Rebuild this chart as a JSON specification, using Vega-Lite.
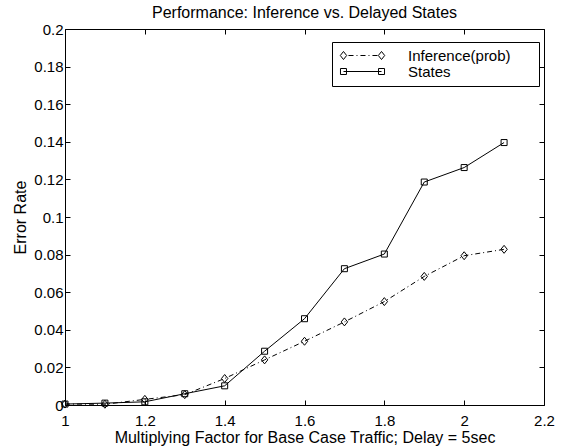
{
  "$schema": "https://vega.github.io/schema/vega-lite/v6.json",
  "width": 479,
  "height": 376,
  "autosize": {"type": "none"},
  "padding": {"left": 65, "top": 29, "right": 20, "bottom": 41},
  "background": "white",
  "title": {
    "text": "Performance: Inference vs. Delayed States",
    "font": "Liberation Sans",
    "fontSize": 16,
    "fontWeight": "normal",
    "color": "black",
    "anchor": "middle",
    "offset": 1
  },
  "data": {
    "values": [
      {"factor": 1.0, "rate": 0.0005, "series": "Inference(prob)"},
      {"factor": 1.1, "rate": 0.0004, "series": "Inference(prob)"},
      {"factor": 1.2, "rate": 0.003, "series": "Inference(prob)"},
      {"factor": 1.3, "rate": 0.0055, "series": "Inference(prob)"},
      {"factor": 1.4, "rate": 0.0141, "series": "Inference(prob)"},
      {"factor": 1.5, "rate": 0.024, "series": "Inference(prob)"},
      {"factor": 1.6, "rate": 0.0339, "series": "Inference(prob)"},
      {"factor": 1.7, "rate": 0.0442, "series": "Inference(prob)"},
      {"factor": 1.8, "rate": 0.055, "series": "Inference(prob)"},
      {"factor": 1.9, "rate": 0.0684, "series": "Inference(prob)"},
      {"factor": 2.0, "rate": 0.0794, "series": "Inference(prob)"},
      {"factor": 2.1, "rate": 0.0828, "series": "Inference(prob)"},
      {"factor": 1.0, "rate": 0.0005, "series": "States"},
      {"factor": 1.1, "rate": 0.001, "series": "States"},
      {"factor": 1.2, "rate": 0.0017, "series": "States"},
      {"factor": 1.3, "rate": 0.006, "series": "States"},
      {"factor": 1.4, "rate": 0.0102, "series": "States"},
      {"factor": 1.5, "rate": 0.0286, "series": "States"},
      {"factor": 1.6, "rate": 0.0459, "series": "States"},
      {"factor": 1.7, "rate": 0.0725, "series": "States"},
      {"factor": 1.8, "rate": 0.0803, "series": "States"},
      {"factor": 1.9, "rate": 0.1186, "series": "States"},
      {"factor": 2.0, "rate": 0.1263, "series": "States"},
      {"factor": 2.1, "rate": 0.1396, "series": "States"}
    ]
  },
  "layer": [
    {
      "transform": [{"filter": "datum.series === 'Inference(prob)'"}],
      "mark": {"type": "line", "color": "black", "strokeWidth": 1, "strokeDash": [5, 3, 1, 3]},
      "encoding": {
        "x": {
          "field": "factor",
          "type": "quantitative",
          "scale": {"domain": [1, 2.2], "nice": false, "zero": false},
          "axis": {
            "orient": "bottom",
            "values": [1, 1.2, 1.4, 1.6, 1.8, 2, 2.2],
            "format": "~g",
            "labelPadding": 13,
            "title": "Multiplying Factor for Base Case Traffic; Delay = 5sec",
            "titleFontSize": 16,
            "titlePadding": 1
          }
        },
        "y": {
          "field": "rate",
          "type": "quantitative",
          "scale": {"domain": [0, 0.2], "nice": false},
          "axis": {
            "orient": "left",
            "values": [0, 0.02, 0.04, 0.06, 0.08, 0.1, 0.12, 0.14, 0.16, 0.18, 0.2],
            "format": "~g",
            "labelPadding": 7,
            "title": "Error Rate",
            "titleFontSize": 16,
            "titlePadding": 5
          }
        }
      }
    },
    {
      "transform": [{"filter": "datum.series === 'States'"}],
      "mark": {"type": "line", "color": "black", "strokeWidth": 1},
      "encoding": {
        "x": {"field": "factor", "type": "quantitative", "axis": null},
        "y": {"field": "rate", "type": "quantitative", "axis": null}
      }
    },
    {
      "transform": [{"filter": "datum.series === 'Inference(prob)'"}],
      "mark": {"type": "point", "filled": false, "color": "black", "strokeWidth": 1, "size": 36, "opacity": 1, "shape": "M0,-1.33L1.07,0L0,1.33L-1.07,0Z"},
      "encoding": {
        "x": {
          "field": "factor",
          "type": "quantitative",
          "axis": {
            "orient": "top",
            "values": [1, 1.2, 1.4, 1.6, 1.8, 2, 2.2],
            "labels": false,
            "title": null
          }
        },
        "y": {
          "field": "rate",
          "type": "quantitative",
          "axis": {
            "orient": "right",
            "values": [0, 0.02, 0.04, 0.06, 0.08, 0.1, 0.12, 0.14, 0.16, 0.18, 0.2],
            "labels": false,
            "title": null
          }
        }
      }
    },
    {
      "transform": [{"filter": "datum.series === 'States'"}],
      "mark": {"type": "point", "filled": false, "color": "black", "strokeWidth": 1, "size": 36, "opacity": 1, "shape": "square"},
      "encoding": {
        "x": {"field": "factor", "type": "quantitative", "axis": null},
        "y": {"field": "rate", "type": "quantitative", "axis": null}
      }
    },
    {
      "mark": {"type": "point", "filled": false, "color": "black", "strokeWidth": 1, "size": 0, "opacity": 1},
      "encoding": {
        "x": {"field": "factor", "type": "quantitative", "axis": null},
        "y": {"field": "rate", "type": "quantitative", "axis": null},
        "shape": {
          "field": "series",
          "type": "nominal",
          "scale": {
            "domain": ["Inference(prob)", "States"],
            "range": [
              "M-3.17,-0.67L-2.64,0L-3.17,0.67L-3.7,0Z M3.17,-0.67L3.7,0L3.17,0.67L2.64,0Z M-2.34,0L-1.5,0 M-1.0,0L-0.84,0 M-0.34,0L0.5,0 M1.0,0L1.16,0 M1.66,0L2.5,0",
              "M-3.67,-0.5L-2.67,-0.5L-2.67,0.5L-3.67,0.5Z M2.67,-0.5L3.67,-0.5L3.67,0.5L2.67,0.5Z M-3.17,0L3.17,0"
            ]
          },
          "legend": {
            "title": null,
            "orient": "none",
            "legendX": 267,
            "legendY": 13,
            "padding": 6,
            "rowPadding": 0,
            "symbolSize": 144,
            "symbolOffset": 17,
            "labelOffset": 38,
            "labelExpr": "datum.label + '\u2800\u2800'",
            "strokeColor": "black",
            "fillColor": "white",
            "cornerRadius": 0,
            "symbolStrokeColor": "black",
            "symbolFillColor": "transparent",
            "symbolStrokeWidth": 1,
            "symbolOpacity": 1,
            "labelFont": "Liberation Sans",
            "labelFontSize": 15,
            "labelColor": "black"
          }
        }
      }
    }
  ],
  "resolve": {"axis": {"x": "independent", "y": "independent"}},
  "config": {
    "font": "Liberation Sans",
    "view": {"stroke": "black", "strokeWidth": 1},
    "axis": {
      "grid": false,
      "domain": false,
      "ticks": true,
      "tickSize": -5,
      "tickColor": "black",
      "tickWidth": 1,
      "labelPadding": 8,
      "labelFont": "Liberation Sans",
      "labelFontSize": 15,
      "labelColor": "black",
      "labelFlush": false,
      "labelOverlap": false,
      "titleFont": "Liberation Sans",
      "titleFontSize": 15,
      "titleFontWeight": "normal",
      "titleColor": "black"
    }
  }
}
